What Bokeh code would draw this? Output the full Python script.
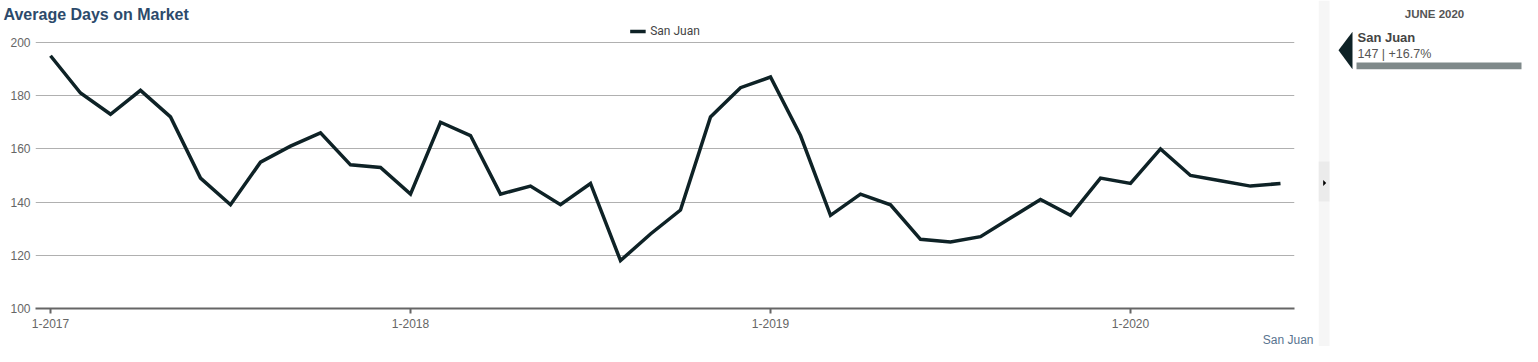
import calendar
from bokeh.plotting import figure
from bokeh.models import Range1d, FixedTicker, Legend, LegendItem, Title
from bokeh.layouts import row
from bokeh.embed import file_html
from bokeh.resources import INLINE
from bokeh.core.properties import value

# ---------------- data ----------------
title_text = "Average Days on Market"
series_name = "San Juan"
years = [2017, 2018, 2019, 2020]
months = [f"{m}-{y}" for y in years for m in range(1, 13)][:42]   # 1-2017 .. 6-2020
days = [195, 181, 173, 182, 172, 149, 139, 155, 161, 166, 154, 153,
        143, 170, 165, 143, 146, 139, 147, 118, 128, 137, 172, 183,
        187, 165, 135, 143, 139, 126, 125, 127, 134, 141, 135, 149,
        147, 160, 150, 148, 146, 147]
tick_labels = ["1-2017", "1-2018", "1-2019", "1-2020"]
y_ticks = [100, 120, 140, 160, 180, 200]

x = list(range(len(days)))
tick_pos = [months.index(t) for t in tick_labels]

FONT = "Liberation Sans"
LINE_COLOR = "#0e2226"
MW, SW, H = 1318, 204, 346

# ---------------- main chart ----------------
p = figure(width=MW, height=H, output_backend="svg", toolbar_location=None,
           x_range=Range1d(-0.5, 41.467), y_range=Range1d(100, 206.74),
           min_border_left=35, min_border_right=MW - 1294,
           min_border_top=24, min_border_bottom=37,
           title=title_text)
p.frame_align = False
p.outline_line_color = None
p.background_fill_color = "white"
p.border_fill_color = "white"

p.title.text_font = FONT
p.title.text_font_size = "16px"
p.title.text_font_style = "bold"
p.title.text_color = "#2c4a6b"
p.title.align = "left"
p.title.offset = -32
p.title.standoff = 3

r = p.line(x, days, line_width=3.5, line_color=LINE_COLOR, line_join="miter")

# y axis
p.yaxis.ticker = FixedTicker(ticks=y_ticks)
p.yaxis.axis_line_color = None
p.yaxis.major_tick_line_color = None
p.yaxis.major_tick_out = 0
p.yaxis.major_tick_in = 0
p.yaxis.minor_tick_line_color = None
p.yaxis.major_label_standoff = 5
p.yaxis.major_label_text_font = FONT
p.yaxis.major_label_text_font_size = "12px"
p.yaxis.major_label_text_color = "#666666"

# x axis
p.xaxis.ticker = FixedTicker(ticks=tick_pos)
p.xaxis.major_label_overrides = {pos: lab for pos, lab in zip(tick_pos, tick_labels)}
p.xaxis.axis_line_color = "#666666"
p.xaxis.axis_line_width = 2
p.xaxis.major_tick_line_color = "#666666"
p.xaxis.major_tick_line_width = 2
p.xaxis.major_tick_in = 0
p.xaxis.major_tick_out = 5
p.xaxis.minor_tick_line_color = None
p.xaxis.major_label_standoff = 5
p.xaxis.major_label_text_font = FONT
p.xaxis.major_label_text_font_size = "12px"
p.xaxis.major_label_text_color = "#666666"

p.xgrid.grid_line_color = None
p.ygrid.ticker = FixedTicker(ticks=y_ticks)
p.ygrid.grid_line_color = "#b0b0b0"
p.ygrid.grid_line_width = 1

legend = Legend(items=[LegendItem(label=series_name, renderers=[r])],
                location="top_center", orientation="horizontal",
                border_line_color=None, background_fill_alpha=0,
                padding=0, margin=0, spacing=0,
                glyph_width=16, glyph_height=10, label_height=10,
                label_standoff=5, label_text_font="Roboto",
                label_text_font_size="12px", label_text_color="#444444")
p.add_layout(legend)

# x axis series caption, bottom right
p.add_layout(Title(text=series_name, align="right", offset=-19, standoff=0,
                   text_font=FONT, text_font_size="12px", text_font_style="normal",
                   text_color="#58748f"), "below")

# ---------------- side panel ----------------
s = figure(width=SW, height=H, output_backend="svg", toolbar_location=None,
           x_range=Range1d(0, SW), y_range=Range1d(H, 0),
           min_border=0, x_axis_type=None, y_axis_type=None)
s.frame_align = False
s.outline_line_color = None
s.grid.grid_line_color = None
s.background_fill_color = "white"
s.border_fill_color = "white"

# collapse strip with toggle
s.quad(left=[0], right=[11], top=[0], bottom=[H], fill_color="#f6f6f6", line_color=None)
s.quad(left=[0], right=[11], top=[161], bottom=[201], fill_color="#ebebeb", line_color=None)
s.patch([4.7, 7.7, 4.7], [179.5, 182.5, 185.5], fill_color="black", line_color=None)

last_m, last_y = months[-1].split("-")
period = f"{calendar.month_name[int(last_m)].upper()} {last_y}"
change = (days[-1] / days[-13] - 1) * 100
stats = f"{days[-1]} | {change:+.1f}%"

s.text(x=[116], y=[13], text=[period], text_align="center", text_baseline="middle",
       text_font=value(FONT), text_font_size="11.5px", text_font_style="bold", text_color="#555555")
s.patch([20, 34, 34], [49.7, 31.3, 68.7], fill_color=LINE_COLOR, line_color=None)
s.text(x=[39], y=[37], text=[series_name], text_align="left", text_baseline="middle",
       text_font=value(FONT), text_font_size="13px", text_font_style="bold", text_color="#444444")
s.text(x=[39], y=[53.5], text=[stats], text_align="left", text_baseline="middle",
       text_font=value(FONT), text_font_size="12.5px", text_color="#555555")
bar_left, bar_full = 38, 165
s.quad(left=[bar_left], right=[bar_left + bar_full * days[-1] / max(days[-1:])],
       top=[62], bottom=[68.7], fill_color="#7f898a", line_color=None)

layout = row(p, s, spacing=0)
open("out.html", "w").write(file_html(layout, INLINE))
